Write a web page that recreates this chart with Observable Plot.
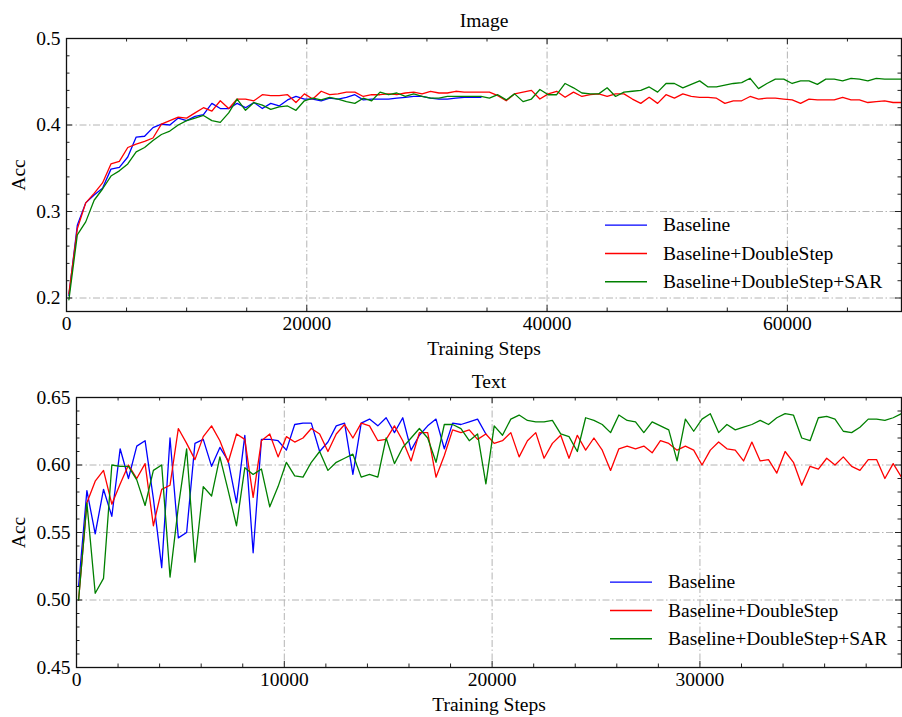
<!DOCTYPE html>
<html><head><meta charset="utf-8">
<script src="https://cdn.jsdelivr.net/npm/d3@7"></script>
<script src="https://cdn.jsdelivr.net/npm/@observablehq/plot@0.6"></script>
<style>
body{margin:0;background:#fff;}
#wrap{position:relative;width:902px;height:717px;overflow:hidden;}
#wrap svg{display:block;}
.legend{position:absolute;}
</style></head><body>
<div id="wrap"></div>
<script>
// ---------- data ----------
const seriesNames = ["Baseline", "Baseline+DoubleStep", "Baseline+DoubleStep+SAR"];
const seriesColors = ["#0000ff", "#ff0000", "#008000"];

const imageSteps = [
 200,900,1600,2300,3000,3700,4400,5100,5800,6500,
 7200,7900,8600,9300,10000,10700,11400,12100,12800,13500,
 14200,14900,15600,16300,17000,17700,18400,19100,19800,20500,
 21200,21900,22600,23300,24000,24700,25400,26100,26800,27500,
 28200,28900,29600,30300,31000,31700,32400,33100,33800,34500,
 35200,35900,36600,37300,38000,38700,39400,40100,40800,41500,
 42200,42900,43600,44300,45000,45700,46400,47100,47800,48500,
 49200,49900,50600,51300,52000,52700,53400,54100,54800,55500,
 56200,56900,57600,58300,59000,59700,60400,61100,61800,62500,
 63200,63900,64600,65300,66000,66700,67400,68100,68800,69500];

const imageBaseline = [
 0.203,0.284,0.310,0.319,0.327,0.349,0.351,0.363,0.386,0.387,
 0.397,0.401,0.400,0.408,0.405,0.410,0.412,0.425,0.419,0.419,
 0.425,0.420,0.426,0.419,0.425,0.422,0.429,0.433,0.430,0.430,
 0.428,0.431,0.430,0.432,0.435,0.429,0.430,0.430,0.430,0.431,
 0.432,0.433,0.433,0.431,0.430,0.430,0.431,0.432,0.432,0.432];

const imageDoubleStep = [
 0.205,0.280,0.310,0.321,0.333,0.355,0.358,0.374,0.378,0.381,
 0.385,0.401,0.405,0.409,0.408,0.414,0.420,0.416,0.428,0.419,
 0.430,0.430,0.428,0.435,0.434,0.434,0.435,0.426,0.436,0.430,
 0.439,0.435,0.436,0.438,0.438,0.433,0.435,0.435,0.436,0.435,
 0.437,0.438,0.436,0.439,0.437,0.437,0.439,0.438,0.438,0.438,
 0.438,0.434,0.428,0.436,0.438,0.440,0.430,0.436,0.439,0.432,
 0.438,0.433,0.435,0.436,0.433,0.436,0.436,0.430,0.425,0.432,
 0.425,0.435,0.431,0.436,0.433,0.432,0.432,0.431,0.425,0.428,
 0.428,0.433,0.430,0.431,0.431,0.430,0.429,0.425,0.430,0.429,
 0.429,0.429,0.432,0.429,0.429,0.426,0.427,0.428,0.426,0.426];

const imageSAR = [
 0.198,0.273,0.288,0.313,0.326,0.341,0.347,0.355,0.369,0.374,
 0.382,0.389,0.393,0.400,0.405,0.408,0.411,0.405,0.403,0.414,
 0.430,0.417,0.426,0.423,0.418,0.421,0.422,0.417,0.428,0.431,
 0.429,0.432,0.430,0.427,0.425,0.431,0.428,0.438,0.435,0.437,
 0.433,0.436,0.433,0.431,0.431,0.433,0.433,0.433,0.433,0.433,
 0.431,0.435,0.429,0.436,0.427,0.430,0.441,0.435,0.435,0.448,
 0.443,0.437,0.436,0.436,0.443,0.433,0.438,0.439,0.440,0.444,
 0.438,0.448,0.448,0.443,0.447,0.451,0.444,0.444,0.446,0.448,
 0.449,0.454,0.442,0.448,0.453,0.453,0.448,0.451,0.451,0.447,
 0.453,0.453,0.451,0.454,0.453,0.451,0.454,0.453,0.453,0.453];

const textSteps = [
 100,500,900,1300,1700,2100,2500,2900,3300,3700,
 4100,4500,4900,5300,5700,6100,6500,6900,7300,7700,
 8100,8500,8900,9300,9700,10100,10500,10900,11300,11700,
 12100,12500,12900,13300,13700,14100,14500,14900,15300,15700,
 16100,16500,16900,17300,17700,18100,18500,18900,19300,19700,
 20100,20500,20900,21300,21700,22100,22500,22900,23300,23700,
 24100,24500,24900,25300,25700,26100,26500,26900,27300,27700,
 28100,28500,28900,29300,29700,30100,30500,30900,31300,31700,
 32100,32500,32900,33300,33700,34100,34500,34900,35300,35700,
 36100,36500,36900,37300,37700,38100,38500,38900,39300,39700];

const textBaseline = [
 0.510,0.581,0.549,0.582,0.562,0.612,0.590,0.614,0.618,0.575,
 0.524,0.620,0.546,0.550,0.616,0.619,0.599,0.613,0.603,0.572,
 0.622,0.535,0.619,0.619,0.618,0.611,0.630,0.631,0.631,0.610,
 0.617,0.629,0.631,0.593,0.631,0.634,0.629,0.635,0.624,0.635,
 0.611,0.622,0.629,0.634,0.612,0.631,0.630,0.632,0.634,0.623];

const textDoubleStep = [
 0.500,0.572,0.588,0.596,0.571,0.586,0.600,0.590,0.601,0.555,
 0.582,0.585,0.627,0.616,0.604,0.621,0.629,0.618,0.602,0.623,
 0.619,0.576,0.618,0.623,0.606,0.621,0.617,0.620,0.627,0.623,
 0.610,0.623,0.630,0.620,0.631,0.629,0.618,0.619,0.629,0.618,
 0.603,0.624,0.624,0.591,0.607,0.626,0.624,0.626,0.619,0.623,
 0.616,0.618,0.624,0.606,0.618,0.624,0.605,0.616,0.622,0.605,
 0.622,0.611,0.620,0.611,0.596,0.612,0.614,0.612,0.614,0.609,
 0.618,0.616,0.611,0.614,0.611,0.600,0.611,0.617,0.612,0.611,
 0.603,0.617,0.603,0.604,0.594,0.610,0.602,0.585,0.599,0.597,
 0.605,0.600,0.606,0.599,0.596,0.604,0.604,0.590,0.601,0.591];

const textSAR = [
 0.500,0.572,0.505,0.516,0.600,0.599,0.599,0.589,0.570,0.596,
 0.600,0.517,0.569,0.612,0.528,0.584,0.577,0.606,0.581,0.555,
 0.598,0.593,0.597,0.569,0.584,0.602,0.592,0.591,0.602,0.610,
 0.596,0.602,0.605,0.608,0.591,0.593,0.591,0.620,0.601,0.613,
 0.620,0.627,0.620,0.602,0.630,0.630,0.627,0.618,0.623,0.586,
 0.629,0.622,0.634,0.637,0.633,0.632,0.632,0.633,0.623,0.621,
 0.610,0.635,0.633,0.630,0.624,0.637,0.633,0.632,0.624,0.632,
 0.629,0.626,0.603,0.634,0.625,0.634,0.638,0.624,0.630,0.626,
 0.628,0.630,0.633,0.630,0.635,0.638,0.637,0.620,0.618,0.635,
 0.636,0.634,0.625,0.624,0.628,0.634,0.634,0.633,0.635,0.638];

// tick values
const imageXMajor = [0, 20000, 40000, 60000];
const imageXMinor = [5000,10000,15000,25000,30000,35000,45000,50000,55000,65000];
const imageYMajor = [0.2, 0.3, 0.4, 0.5];
const imageYMinor = [0.22,0.24,0.26,0.28,0.32,0.34,0.36,0.38,0.42,0.44,0.46,0.48];
const textXMajor = [0, 10000, 20000, 30000];
const textXMinor = [2000,4000,6000,8000,12000,14000,16000,18000,22000,24000,26000,28000,32000,34000,36000,38000];
const textYMajor = [0.45, 0.50, 0.55, 0.60, 0.65];
const textYMinor = [0.46,0.47,0.48,0.49,0.51,0.52,0.53,0.54,0.56,0.57,0.58,0.59,0.61,0.62,0.63,0.64];

// ---------- drawing ----------
const FONT = "'Liberation Serif', Tinos, 'Times New Roman', 'Nimbus Roman', 'DejaVu Serif', serif";
const FS = 19.5;

function makeChart(cfg) {
  const data = [];
  cfg.series.forEach((vals, k) => vals.forEach((v, i) => data.push({step: cfg.steps[i], acc: v, name: seriesNames[k]})));
  const W = 902;
  const innerW = W - cfg.marginLeft - cfg.marginRight;
  const innerH = cfg.height - cfg.marginTop - cfg.marginBottom;
  const tickCol = "#222";
  const gridOpts = {stroke: "#b4b4b4", strokeOpacity: 1, strokeWidth: 1, strokeDasharray: "7,2.5,1.5,2.5"};
  return Plot.plot({
    width: W, height: cfg.height,
    marginTop: cfg.marginTop, marginBottom: cfg.marginBottom,
    marginLeft: cfg.marginLeft, marginRight: cfg.marginRight,
    style: {fontFamily: FONT, fontSize: FS + "px", background: "white", color: "black", overflow: "visible"},
    x: {domain: cfg.xDomain},
    y: {domain: cfg.yDomain},
    color: {domain: seriesNames, range: seriesColors},
    marks: [
      Plot.gridX(cfg.xMajor, gridOpts),
      Plot.gridY(cfg.yMajor, gridOpts),
      Plot.line(data, {x: "step", y: "acc", z: "name", stroke: "name", strokeWidth: 1.3}),
      // inward ticks, minor
      Plot.ruleX(cfg.xMinor, {insetTop: innerH - 3.5, stroke: tickCol}),
      Plot.ruleX(cfg.xMinor, {insetBottom: innerH - 3.5, stroke: tickCol}),
      Plot.ruleY(cfg.yMinor, {insetRight: innerW - 3.5, stroke: tickCol}),
      Plot.ruleY(cfg.yMinor, {insetLeft: innerW - 3.5, stroke: tickCol}),
      // inward ticks, major
      Plot.ruleX(cfg.xMajor, {insetTop: innerH - 6, stroke: tickCol}),
      Plot.ruleX(cfg.xMajor, {insetBottom: innerH - 6, stroke: tickCol}),
      Plot.ruleY(cfg.yMajor, {insetRight: innerW - 6, stroke: tickCol}),
      Plot.ruleY(cfg.yMajor, {insetLeft: innerW - 6, stroke: tickCol}),
      Plot.frame({stroke: "#111", strokeWidth: 1.3}),
      Plot.axisX(cfg.xMajor, {tickSize: 0, tickPadding: 4.5, tickFormat: d => String(d), label: null}),
      Plot.axisY(cfg.yMajor, {tickSize: 0, tickPadding: 6, tickFormat: cfg.yFmt, label: null}),
      Plot.text([cfg.title], {frameAnchor: "top", dy: cfg.titleDy, lineAnchor: "middle", textAnchor: "middle", text: d => d}),
      Plot.text(["Training Steps"], {frameAnchor: "bottom", dy: cfg.xLabelDy, lineAnchor: "middle", textAnchor: "middle", text: d => d}),
      Plot.text(["Acc"], {frameAnchor: "left", dx: cfg.yLabelDx, rotate: -90, lineAnchor: "middle", textAnchor: "middle", text: d => d})
    ]
  });
}

function makeLegend(left, top) {
  const rowH = 28.3, w = 300, h = rowH * 3;
  const svg = d3.create("svg")
    .attr("class", "legend")
    .attr("width", w).attr("height", h)
    .style("left", left + "px").style("top", top + "px")
    .style("position", "absolute");
  seriesNames.forEach((n, k) => {
    const cy = rowH * k + rowH / 2;
    svg.append("line").attr("x1", 0).attr("x2", 42).attr("y1", cy).attr("y2", cy)
      .attr("stroke", seriesColors[k]).attr("stroke-width", 1.4);
    svg.append("text").attr("x", 58).attr("y", cy).attr("dy", "0.32em")
      .attr("font-family", FONT).attr("font-size", FS).attr("fill", "black").text(n);
  });
  return svg.node();
}

const wrap = document.getElementById("wrap");

wrap.appendChild(makeChart({
  title: "Image", steps: imageSteps,
  series: [imageBaseline, imageDoubleStep, imageSAR],
  xDomain: [0, 69500], yDomain: [0.1844, 0.5],
  xMajor: imageXMajor, xMinor: imageXMinor, yMajor: imageYMajor, yMinor: imageYMinor,
  yFmt: d => d.toFixed(1),
  height: 360, marginTop: 38, marginBottom: 49, marginLeft: 66, marginRight: 1,
  titleDy: -18, xLabelDy: 37, yLabelDx: -48
}));

wrap.appendChild(makeChart({
  title: "Text", steps: textSteps,
  series: [textBaseline, textDoubleStep, textSAR],
  xDomain: [0, 39700], yDomain: [0.45, 0.65],
  xMajor: textXMajor, xMinor: textXMinor, yMajor: textYMajor, yMinor: textYMinor,
  yFmt: d => d.toFixed(2),
  height: 357, marginTop: 37, marginBottom: 50, marginLeft: 76, marginRight: 1,
  titleDy: -16, xLabelDy: 37, yLabelDx: -58
}));

wrap.appendChild(makeLegend(605, 211));
wrap.appendChild(makeLegend(610, 568));
</script>
</body></html>
